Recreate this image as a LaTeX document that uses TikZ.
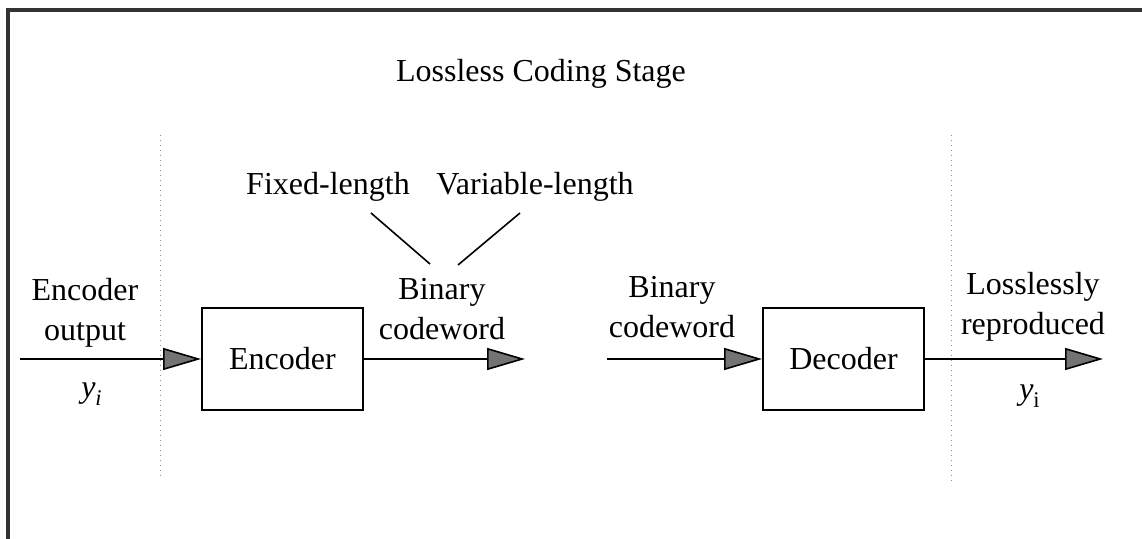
\documentclass[tikz,border=0pt]{standalone}
\usepackage{amsmath}
\usepackage{fontspec}
\setmainfont{Liberation Serif}
\usetikzlibrary{arrows.meta}

\begin{document}
\begin{tikzpicture}[x=0.5pt, y=-0.5pt,
    every node/.style={font=\fontsize{16}{20}\selectfont},
    coder/.style={draw, line width=1pt, minimum width=80.5pt, minimum height=51pt, inner sep=0pt},
    flow/.style={line width=0.8pt, -{Triangle[length=19pt, width=11pt, fill=black!55]}},
    label/.style={align=center, inner sep=0pt},
    stage/.style={draw=black!45, line width=0.5pt, dotted}]
  \useasboundingbox (0,0) rectangle (1142,539);

  % frame
  \draw [line width=2pt, color=black!80] (8,539) -- (8,10) -- (1142,10);

  \node [anchor=base] (title) at (541,82) {Lossless Coding Stage};

  % stage borders
  \draw [stage] (160,135) -- (160,478);
  \draw [stage] (951,135) -- (951,485);

  \node [coder] (enc) at (282.5,359) {Encoder};
  \node [coder] (dec) at (843.5,359) {Decoder};

  \coordinate (encin) at (20,359);
  \coordinate (encout) at (525,359);
  \coordinate (decin) at (607,359);
  \coordinate (decout) at (1103,359);

  \draw [flow] (encin) -- (enc.west);
  \draw [flow] (enc.east) -- (encout);
  \draw [flow] (decin) -- (dec.west);
  \draw [flow] (dec.east) -- (decout);

  \node [label] (inlab) at (85,313) {Encoder\\output};
  \node [label] (codelab) at (442,309) {Binary\\codeword};
  \node [label] (codelab2) at (672,307) {Binary\\codeword};
  \node [label] (outlab) at (1033,307) {Losslessly\\reproduced};

  \node (yin) at (92,394) {$\textit{y}_{\textit{i}}$};
  \node (yout) at (1030,396) {$\textit{y}_{\text{i}}$};

  \node [anchor=base] (fixed) at (328,195) {Fixed-length};
  \node [anchor=base] (var) at (535,195) {Variable-length};

  \coordinate (fixtop) at (371,213);
  \coordinate (vartop) at (520,213);
  \coordinate (codetopl) at (430,264);
  \coordinate (codetopr) at (458,265);
  \draw [line width=0.8pt] (fixtop) -- (codetopl);
  \draw [line width=0.8pt] (vartop) -- (codetopr);
\end{tikzpicture}
\end{document}
